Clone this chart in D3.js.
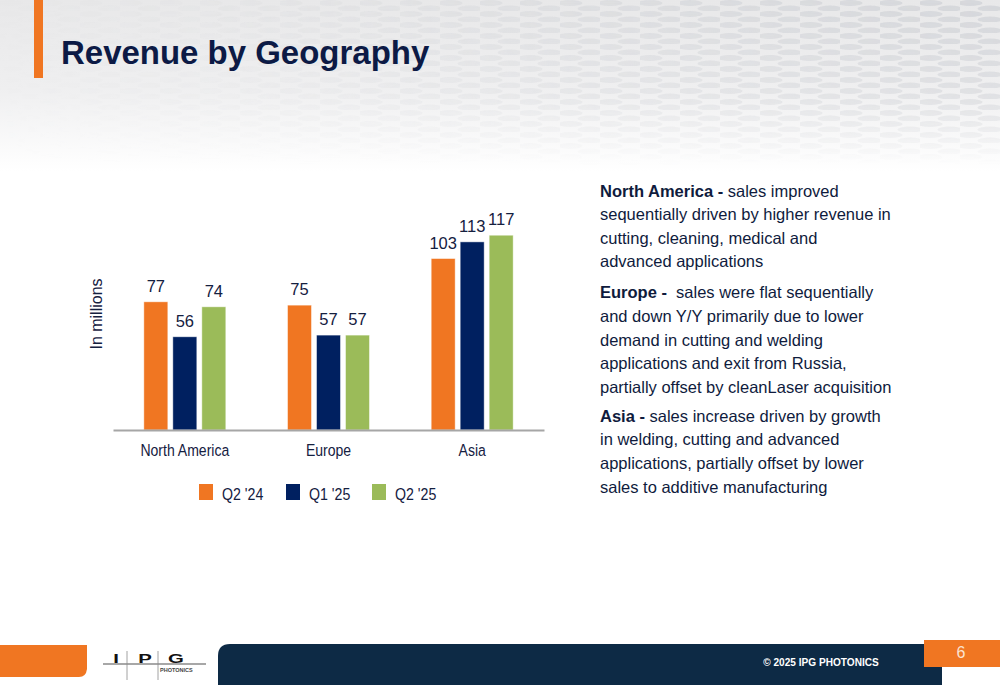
<!DOCTYPE html>
<html>
<head>
<meta charset="utf-8">
<script src="https://cdn.jsdelivr.net/npm/d3@7"></script>
<style>
  html, body { margin: 0; padding: 0; background: #ffffff; }
  svg { display: block; font-family: "Liberation Sans", Arial, sans-serif; }
</style>
</head>
<body>
<svg id="slide" width="1000" height="685"></svg>
<script>
// chart data
const categories = ["North America", "Europe", "Asia"];
const seriesNames = ["Q2 '24", "Q1 '25", "Q2 '25"];
const q2_24 = [77, 75, 103];
const q1_25 = [56, 57, 113];
const q2_25 = [74, 57, 117];
const seriesColors = ["#f07622", "#002060", "#9bbb59"];

// commentary on the right
const notes = [
  { head: "North America - ", lines: ["sales improved", "sequentially driven by higher revenue in", "cutting, cleaning, medical and", "advanced applications"] },
  { head: "Europe -\u00a0 ", lines: ["sales were flat sequentially", "and down Y/Y primarily due to lower", "demand in cutting and welding", "applications and exit from Russia,", "partially offset by cleanLaser acquisition"] },
  { head: "Asia - ", lines: ["sales increase driven by growth", "in welding, cutting and advanced", "applications, partially offset by lower", "sales to additive manufacturing"] }
];

const textColor = "#15203f";
const svg = d3.select("#slide");
const defs = svg.append("defs");

// background: grey wash with a perforated-metal look at the top right
const bg = defs.append("linearGradient").attr("id", "bgGrad")
  .attr("x1", 0).attr("y1", 0).attr("x2", 0).attr("y2", 1);
bg.append("stop").attr("offset", "0%").attr("stop-color", "#e8e8e9");
bg.append("stop").attr("offset", "13%").attr("stop-color", "#efeff0");
bg.append("stop").attr("offset", "25%").attr("stop-color", "#ffffff");

const fade = defs.append("linearGradient").attr("id", "fadeGrad")
  .attr("gradientUnits", "userSpaceOnUse")
  .attr("x1", 1000).attr("y1", 0).attr("x2", 0).attr("y2", 180);
fade.append("stop").attr("offset", "0%").attr("stop-color", "#fff").attr("stop-opacity", 1);
fade.append("stop").attr("offset", "40%").attr("stop-color", "#fff").attr("stop-opacity", 0.6);
fade.append("stop").attr("offset", "75%").attr("stop-color", "#fff").attr("stop-opacity", 0.15);
fade.append("stop").attr("offset", "100%").attr("stop-color", "#fff").attr("stop-opacity", 0);
const vfade = defs.append("linearGradient").attr("id", "vfadeGrad")
  .attr("x1", 0).attr("y1", 0).attr("x2", 0).attr("y2", 1);
vfade.append("stop").attr("offset", "0%").attr("stop-color", "#fff").attr("stop-opacity", 1);
vfade.append("stop").attr("offset", "60%").attr("stop-color", "#fff").attr("stop-opacity", 0.6);
vfade.append("stop").attr("offset", "100%").attr("stop-color", "#fff").attr("stop-opacity", 0);
defs.append("mask").attr("id", "vMask")
  .append("rect").attr("x", 0).attr("y", 0).attr("width", 1000).attr("height", 165)
  .attr("fill", "url(#vfadeGrad)");
defs.append("mask").attr("id", "fadeMask")
  .append("rect").attr("x", 0).attr("y", 0).attr("width", 1000).attr("height", 165)
  .attr("fill", "url(#fadeGrad)");

const pat = defs.append("pattern").attr("id", "holes")
  .attr("patternUnits", "userSpaceOnUse").attr("width", 40).attr("height", 11);
pat.append("ellipse").attr("cx", 10).attr("cy", 3).attr("rx", 12.5).attr("ry", 3).attr("fill", "#d3d5d9");
pat.append("ellipse").attr("cx", 30).attr("cy", 8.5).attr("rx", 12.5).attr("ry", 3).attr("fill", "#d3d5d9");

svg.append("rect").attr("width", 1000).attr("height", 685).attr("fill", "url(#bgGrad)");
svg.append("g").attr("mask", "url(#vMask)")
  .append("rect").attr("x", 0).attr("y", 0).attr("width", 1000).attr("height", 165)
  .attr("fill", "url(#holes)").attr("mask", "url(#fadeMask)").attr("opacity", 0.9);

// title
svg.append("rect").attr("x", 34).attr("y", 0).attr("width", 9).attr("height", 78).attr("fill", "#f07622");
svg.append("text").attr("x", 61).attr("y", 64)
  .attr("font-size", 34).attr("font-weight", "bold").attr("fill", "#0c1a45")
  .attr("transform", "translate(61,0) scale(0.97,1) translate(-61,0)")
  .text("Revenue by Geography");

// chart
const baseY = 430;
const x0 = d3.scaleBand().domain(categories).range([113, 544]);
const x1 = d3.scaleBand().domain(seriesNames).range([0, 82]).paddingInner(0.172);
const y = d3.scaleLinear().domain([0, 140]).range([baseY, baseY - 140 * 1.665]);

const seriesValues = [q2_24, q1_25, q2_25];
const barData = [];
categories.forEach((c, i) => {
  seriesNames.forEach((s, j) => {
    barData.push({ cat: c, ser: s, value: seriesValues[j][i], color: seriesColors[j] });
  });
});
const groupOffset = (x0.bandwidth() - 82) / 2;

const chart = svg.append("g");
chart.selectAll("rect.bar").data(barData).enter().append("rect")
  .attr("class", "bar")
  .attr("x", d => x0(d.cat) + groupOffset + x1(d.ser))
  .attr("y", d => y(d.value))
  .attr("width", x1.bandwidth())
  .attr("height", d => baseY - y(d.value))
  .attr("fill", d => d.color)
  .attr("stroke", "#ffffff").attr("stroke-opacity", 0.6).attr("stroke-width", 0.8);

chart.selectAll("text.val").data(barData).enter().append("text")
  .attr("class", "val")
  .attr("x", d => x0(d.cat) + groupOffset + x1(d.ser) + x1.bandwidth() / 2)
  .attr("y", d => y(d.value) - 10)
  .attr("text-anchor", "middle").attr("font-size", 16.5).attr("fill", textColor)
  .text(d => d.value);

// category axis
const xAxis = d3.axisBottom(x0).tickSize(0).tickPadding(14);
const axisG = chart.append("g").attr("transform", `translate(0,${baseY})`).call(xAxis);
axisG.attr("font-family", null).attr("font-size", null);
axisG.select(".domain").attr("stroke", "#a6a6a6").attr("stroke-width", 2);
axisG.selectAll(".tick text")
  .attr("font-size", 16.5).attr("fill", textColor)
  .attr("transform", "scale(0.85,1)");

chart.append("text")
  .attr("transform", "translate(102,314) rotate(-90)")
  .attr("text-anchor", "middle").attr("font-size", 16).attr("fill", textColor)
  .text("In millions");

// legend
const legendX = d3.scaleOrdinal().domain(seriesNames).range([199, 286, 372]);
const legend = chart.selectAll("g.leg").data(seriesNames).enter().append("g")
  .attr("class", "leg")
  .attr("transform", d => `translate(${legendX(d)},484)`);
legend.append("rect").attr("width", 14).attr("height", 16)
  .attr("fill", (d, i) => seriesColors[i]);
legend.append("text").attr("x", 23).attr("y", 16)
  .attr("font-size", 16.5).attr("fill", textColor)
  .attr("transform", "translate(23,0) scale(0.86,1) translate(-23,0)")
  .text(d => d);

// notes on the right
const noteTop = [196.5, 298.3, 421.7];
const lineH = 23.6;
notes.forEach((n, k) => {
  n.lines.forEach((ln, i) => {
    const t = svg.append("text").attr("x", 600).attr("y", noteTop[k] + i * lineH)
      .attr("font-size", 16.5).attr("fill", "#0f1b3d");
    if (i === 0) t.append("tspan").attr("font-weight", "bold").text(n.head);
    t.append("tspan").text(ln);
  });
});

// footer
svg.append("path").attr("d", "M0,645 L87,645 L87,669 Q86,677 79,677 L0,677 Z").attr("fill", "#f07622");
svg.append("path").attr("d", "M230,644 L942,644 L942,685 L218,685 L218,656 Q218,644 230,644 Z").attr("fill", "#0d2a45");
svg.append("rect").attr("x", 924).attr("y", 640).attr("width", 76).attr("height", 27).attr("fill", "#f07622");
svg.append("text").attr("x", 961).attr("y", 658).attr("text-anchor", "middle")
  .attr("font-size", 16).attr("fill", "#fbe3d2").text("6");
svg.append("text").attr("x", 821).attr("y", 666).attr("text-anchor", "middle")
  .attr("font-size", 11).attr("font-weight", "bold").attr("fill", "#ffffff")
  .attr("transform", "translate(821,0) scale(0.92,1) translate(-821,0)")
  .text("\u00a9 2025 IPG PHOTONICS");

// IPG logo
const logo = svg.append("g");
[["I", 116], ["P", 145], ["G", 176]].forEach(p => {
  logo.append("text").attr("x", p[1]).attr("y", 663).attr("text-anchor", "middle")
    .attr("font-size", 12).attr("font-weight", "bold").attr("fill", "#111")
    .attr("transform", `translate(${p[1]},0) scale(1.7,1) translate(${-p[1]},0)`)
    .text(p[0]);
});
logo.append("line").attr("x1", 103).attr("x2", 206).attr("y1", 664).attr("y2", 664)
  .attr("stroke", "#8a8a8a").attr("stroke-width", 1.5);
logo.append("line").attr("x1", 127).attr("x2", 127).attr("y1", 651).attr("y2", 680)
  .attr("stroke", "#8a8a8a").attr("stroke-width", 0.8);
logo.append("line").attr("x1", 158).attr("x2", 158).attr("y1", 651).attr("y2", 680)
  .attr("stroke", "#8a8a8a").attr("stroke-width", 0.8);
logo.append("text").attr("x", 160).attr("y", 672).attr("font-size", 5.5)
  .attr("font-weight", "bold").attr("fill", "#444").text("PHOTONICS");
</script>
</body>
</html>
